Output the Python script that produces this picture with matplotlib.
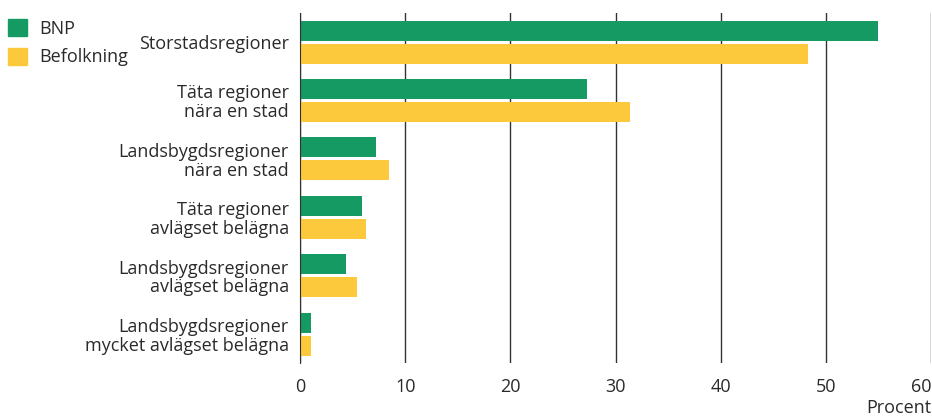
import numpy as np
import matplotlib.pyplot as plt
from matplotlib.patches import Patch

plt.rcParams['font.family'] = ['Open Sans', 'DejaVu Sans']

# Regiontyper och andelar (procent)
regions = ['Storstadsregioner',
           'Täta regioner\nnära en stad',
           'Landsbygdsregioner\nnära en stad',
           'Täta regioner\navlägset belägna',
           'Landsbygdsregioner\navlägset belägna',
           'Landsbygdsregioner\nmycket avlägset belägna']
bnp = [55.0, 27.3, 7.2, 5.9, 4.4, 1.0]
befolkning = [48.3, 31.4, 8.5, 6.3, 5.4, 1.0]
xticks = [0, 10, 20, 30, 40, 50, 60]

green = '#159a63'
yellow = '#fdc93c'
txt = '#2a2a2a'
fs = 13

fig = plt.figure(figsize=(9.32, 4.17), dpi=100)
ax = fig.add_axes([0.322, 0.129, 0.677, 0.840])

y = np.arange(len(regions))
h = 0.343
off = 0.197
ax.barh(y - off, bnp, height=h, color=green, zorder=3)
ax.barh(y + off, befolkning, height=h, color=yellow, zorder=3)

ax.set_ylim(len(regions) - 0.5, -0.5)
ax.set_xlim(0, 60)
ax.set_xticks(xticks)
ax.set_yticks(y)
ax.set_yticklabels(regions, linespacing=1.05)
ax.tick_params(axis='both', length=0, labelsize=fs, colors=txt)
ax.tick_params(axis='y', pad=8)
ax.tick_params(axis='x', pad=11)
# sista etiketten hamnar i kanten
ax.get_xticklabels()[-1].set_horizontalalignment('right')

ax.xaxis.grid(True, color='#333333', linewidth=1.0, zorder=0)
for s in ['top', 'right', 'bottom']:
    ax.spines[s].set_visible(False)
ax.spines['left'].set_color('#333333')
ax.spines['left'].set_zorder(4)

ax.set_xlabel('Procent', loc='right', fontsize=fs, color=txt, labelpad=2)

handles = [Patch(color=green, label='BNP'), Patch(color=yellow, label='Befolkning')]
fig.legend(handles=handles, loc='upper left', bbox_to_anchor=(0.0, 0.973),
           frameon=False, fontsize=fs, handlelength=1.1, handleheight=1.1,
           handletextpad=0.65, labelspacing=0.55, borderaxespad=0.02,
           labelcolor=txt)

fig.savefig('out.png', dpi=100)
